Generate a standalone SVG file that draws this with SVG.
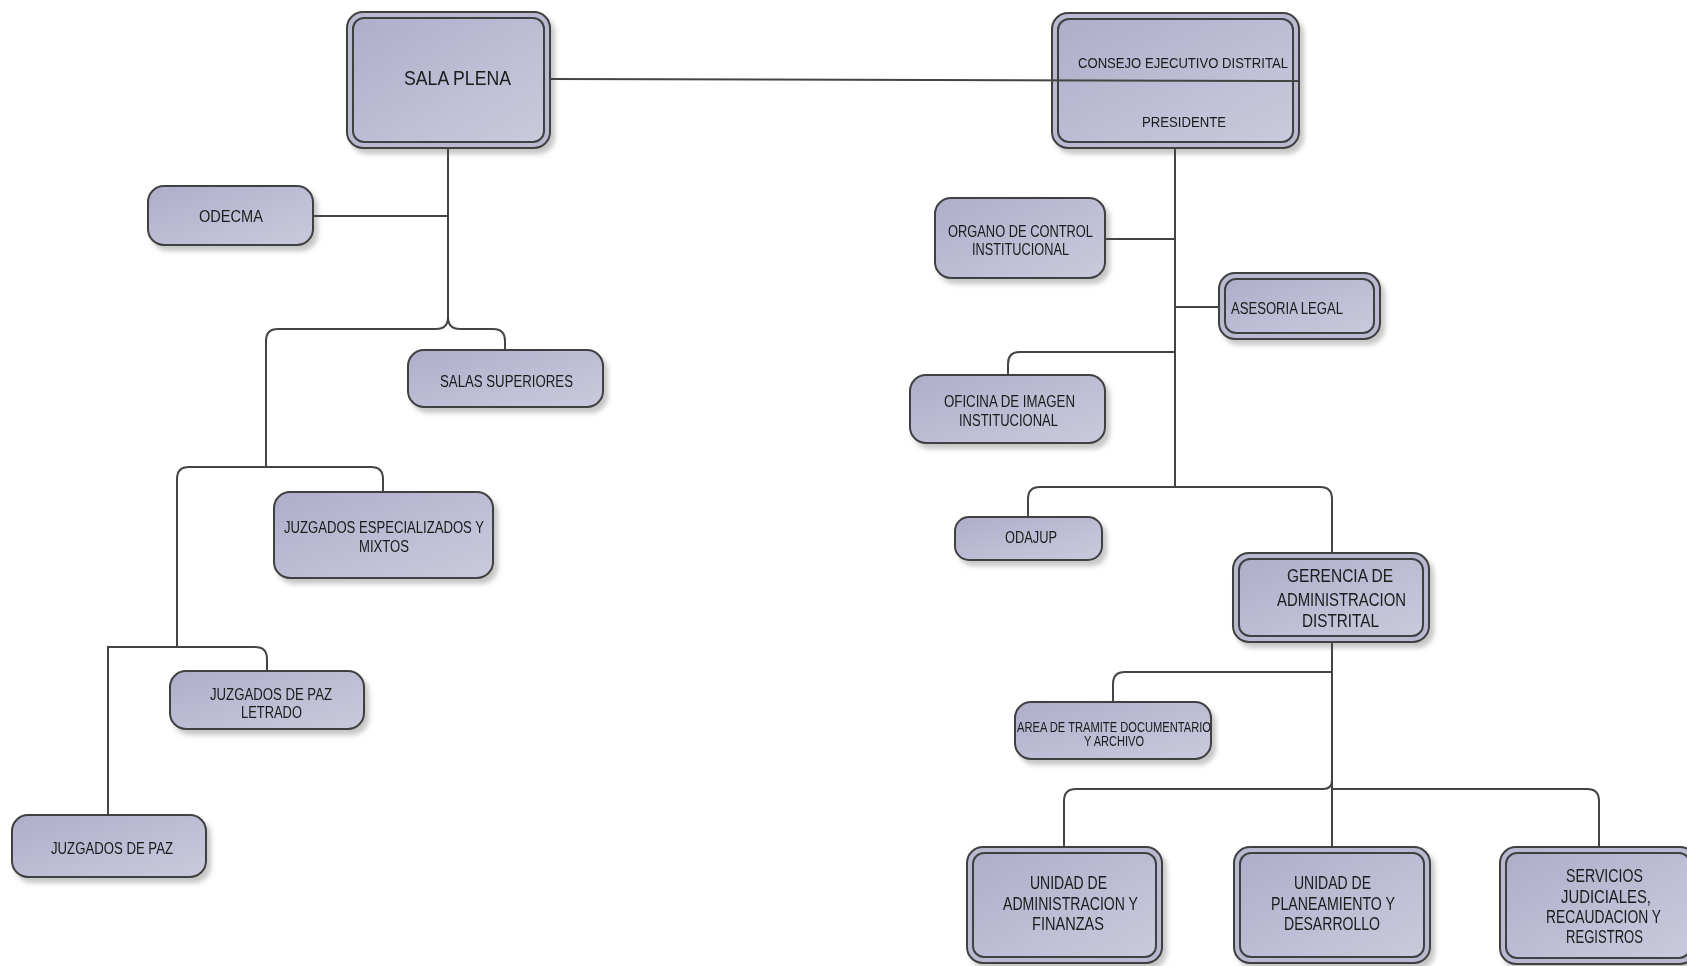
<svg xmlns="http://www.w3.org/2000/svg" width="1687" height="966" viewBox="0 0 1687 966">
<defs>
<linearGradient id="fillg" x1="0" y1="0" x2="1" y2="1">
<stop offset="0" stop-color="#aeaecb"/>
<stop offset="1" stop-color="#cacadd"/>
</linearGradient>
<filter id="sh" x="-10%" y="-10%" width="130%" height="140%">
<feGaussianBlur in="SourceAlpha" stdDeviation="2.5"/>
<feOffset dx="4" dy="5" result="b"/>
<feFlood flood-color="#808080" flood-opacity="0.45"/>
<feComposite in2="b" operator="in"/>
<feMerge><feMergeNode/><feMergeNode in="SourceGraphic"/></feMerge>
</filter>
<style>
.box{fill:url(#fillg);stroke:#404040;stroke-width:2}
.outer{fill:#b9b9d1;stroke:#404040;stroke-width:2}
.inner{fill:url(#fillg);stroke:#404040;stroke-width:2}
.c{fill:none;stroke:#444444;stroke-width:2}
text{font-family:"Liberation Sans",Arial,sans-serif;fill:#1a1a1a;font-size:16px}
.big{font-size:18.5px}
.xl{font-size:21px}
.sm{font-size:14px}
.md{font-size:15.5px}
</style>
</defs>
<rect width="1687" height="966" fill="#ffffff"/>

<g id="nodes">
<g id="sala-plena" filter="url(#sh)">
<rect class="outer" x="347" y="12" width="203" height="136" rx="16"/>
<rect class="inner" x="353" y="18" width="191" height="124" rx="11"/>
<text class="xl" x="404" y="85" textLength="107" lengthAdjust="spacingAndGlyphs">SALA PLENA</text>
</g>
<g id="consejo" filter="url(#sh)">
<rect class="outer" x="1052" y="13" width="247" height="135" rx="16"/>
<rect class="inner" x="1058" y="19" width="235" height="123" rx="11"/>
<text class="md" x="1078" y="68" textLength="210" lengthAdjust="spacingAndGlyphs">CONSEJO EJECUTIVO DISTRITAL</text>
<text class="md" x="1142" y="127" textLength="84" lengthAdjust="spacingAndGlyphs">PRESIDENTE</text>
</g>
<g id="odecma" filter="url(#sh)">
<rect class="box" x="148" y="186" width="165" height="59" rx="16"/>
<text x="199" y="222" textLength="64" lengthAdjust="spacingAndGlyphs">ODECMA</text>
</g>
<g id="salas-superiores" filter="url(#sh)">
<rect class="box" x="408" y="350" width="195" height="57" rx="16"/>
<text x="440" y="387" textLength="133" lengthAdjust="spacingAndGlyphs">SALAS SUPERIORES</text>
</g>
<g id="juzgados-especializados" filter="url(#sh)">
<rect class="box" x="274" y="492" width="219" height="86" rx="16"/>
<text x="284" y="533" textLength="200" lengthAdjust="spacingAndGlyphs">JUZGADOS ESPECIALIZADOS Y</text>
<text x="359" y="552" textLength="50" lengthAdjust="spacingAndGlyphs">MIXTOS</text>
</g>
<g id="juzgados-paz-letrado" filter="url(#sh)">
<rect class="box" x="170" y="671" width="194" height="58" rx="16"/>
<text x="210" y="700" textLength="122" lengthAdjust="spacingAndGlyphs">JUZGADOS DE PAZ</text>
<text x="241" y="718" textLength="61" lengthAdjust="spacingAndGlyphs">LETRADO</text>
</g>
<g id="juzgados-paz" filter="url(#sh)">
<rect class="box" x="12" y="815" width="194" height="62" rx="16"/>
<text x="51" y="854" textLength="122" lengthAdjust="spacingAndGlyphs">JUZGADOS DE PAZ</text>
</g>
<g id="organo-control" filter="url(#sh)">
<rect class="box" x="935" y="198" width="170" height="80" rx="16"/>
<text x="948" y="237" textLength="145" lengthAdjust="spacingAndGlyphs">ORGANO DE CONTROL</text>
<text x="972" y="255" textLength="97" lengthAdjust="spacingAndGlyphs">INSTITUCIONAL</text>
</g>
<g id="asesoria-legal" filter="url(#sh)">
<rect class="outer" x="1219" y="273" width="161" height="66" rx="16"/>
<rect class="inner" x="1225" y="279" width="149" height="54" rx="11"/>
<text x="1231" y="314" textLength="112" lengthAdjust="spacingAndGlyphs">ASESORIA LEGAL</text>
</g>
<g id="oficina-imagen" filter="url(#sh)">
<rect class="box" x="910" y="375" width="195" height="68" rx="16"/>
<text x="944" y="407" textLength="131" lengthAdjust="spacingAndGlyphs">OFICINA DE IMAGEN</text>
<text x="959" y="426" textLength="99" lengthAdjust="spacingAndGlyphs">INSTITUCIONAL</text>
</g>
<g id="odajup" filter="url(#sh)">
<rect class="box" x="955" y="517" width="147" height="43" rx="14"/>
<text x="1005" y="543" textLength="52" lengthAdjust="spacingAndGlyphs">ODAJUP</text>
</g>
<g id="gerencia" filter="url(#sh)">
<rect class="outer" x="1233" y="553" width="196" height="89" rx="16"/>
<rect class="inner" x="1239" y="559" width="184" height="77" rx="11"/>
<text class="big" x="1287" y="582" textLength="106" lengthAdjust="spacingAndGlyphs">GERENCIA DE</text>
<text class="big" x="1277" y="606" textLength="129" lengthAdjust="spacingAndGlyphs">ADMINISTRACION</text>
<text class="big" x="1302" y="627" textLength="77" lengthAdjust="spacingAndGlyphs">DISTRITAL</text>
</g>
<g id="area-tramite" filter="url(#sh)">
<rect class="box" x="1015" y="702" width="196" height="57" rx="16"/>
<text class="sm" x="1017" y="732" textLength="194" lengthAdjust="spacingAndGlyphs">AREA DE TRAMITE DOCUMENTARIO</text>
<text class="sm" x="1084" y="746" textLength="60" lengthAdjust="spacingAndGlyphs">Y ARCHIVO</text>
</g>
<g id="unidad-administracion" filter="url(#sh)">
<rect class="outer" x="967" y="847" width="195" height="116" rx="16"/>
<rect class="inner" x="973" y="853" width="183" height="104" rx="11"/>
<text class="big" x="1030" y="889" textLength="77" lengthAdjust="spacingAndGlyphs">UNIDAD DE</text>
<text class="big" x="1003" y="910" textLength="135" lengthAdjust="spacingAndGlyphs">ADMINISTRACION Y</text>
<text class="big" x="1032" y="930" textLength="72" lengthAdjust="spacingAndGlyphs">FINANZAS</text>
</g>
<g id="unidad-planeamiento" filter="url(#sh)">
<rect class="outer" x="1234" y="847" width="196" height="116" rx="16"/>
<rect class="inner" x="1240" y="853" width="184" height="104" rx="11"/>
<text class="big" x="1294" y="889" textLength="77" lengthAdjust="spacingAndGlyphs">UNIDAD DE</text>
<text class="big" x="1271" y="910" textLength="124" lengthAdjust="spacingAndGlyphs">PLANEAMIENTO Y</text>
<text class="big" x="1284" y="930" textLength="96" lengthAdjust="spacingAndGlyphs">DESARROLLO</text>
</g>
<g id="servicios-judiciales" filter="url(#sh)">
<rect class="outer" x="1500" y="847" width="196" height="117" rx="16"/>
<rect class="inner" x="1506" y="853" width="184" height="105" rx="11"/>
<text class="big" x="1566" y="882" textLength="77" lengthAdjust="spacingAndGlyphs">SERVICIOS</text>
<text class="big" x="1561" y="903" textLength="90" lengthAdjust="spacingAndGlyphs">JUDICIALES,</text>
<text class="big" x="1546" y="923" textLength="115" lengthAdjust="spacingAndGlyphs">RECAUDACION Y</text>
<text class="big" x="1566" y="943" textLength="77" lengthAdjust="spacingAndGlyphs">REGISTROS</text>
</g>
</g>

<g id="connectors">
<path class="c" d="M550,79 L1299,81"/>
<path class="c" d="M448,148 V317 Q448,329 436,329 H278 Q266,329 266,341 V467"/>
<path class="c" d="M448,317 Q448,329 460,329 H493 Q505,329 505,341 V350"/>
<path class="c" d="M313,216 H448"/>
<path class="c" d="M266,467 H371 Q383,467 383,479 V492"/>
<path class="c" d="M266,467 H189 Q177,467 177,479 V647"/>
<path class="c" d="M177,647 H108 V815"/>
<path class="c" d="M177,647 H255 Q267,647 267,659 V671"/>
<path class="c" d="M1175,148 V487"/>
<path class="c" d="M1105,239 H1175"/>
<path class="c" d="M1175,307 H1219"/>
<path class="c" d="M1175,352 H1020 Q1008,352 1008,364 V375"/>
<path class="c" d="M1175,487 H1040 Q1028,487 1028,499 V517"/>
<path class="c" d="M1175,487 H1320 Q1332,487 1332,499 V553"/>
<path class="c" d="M1332,642 V847"/>
<path class="c" d="M1332,672 H1125 Q1113,672 1113,684 V702"/>
<path class="c" d="M1332,780 Q1332,789 1323,789 H1076 Q1064,789 1064,801 V847"/>
<path class="c" d="M1332,789 H1587 Q1599,789 1599,801 V847"/>
</g>
</svg>
